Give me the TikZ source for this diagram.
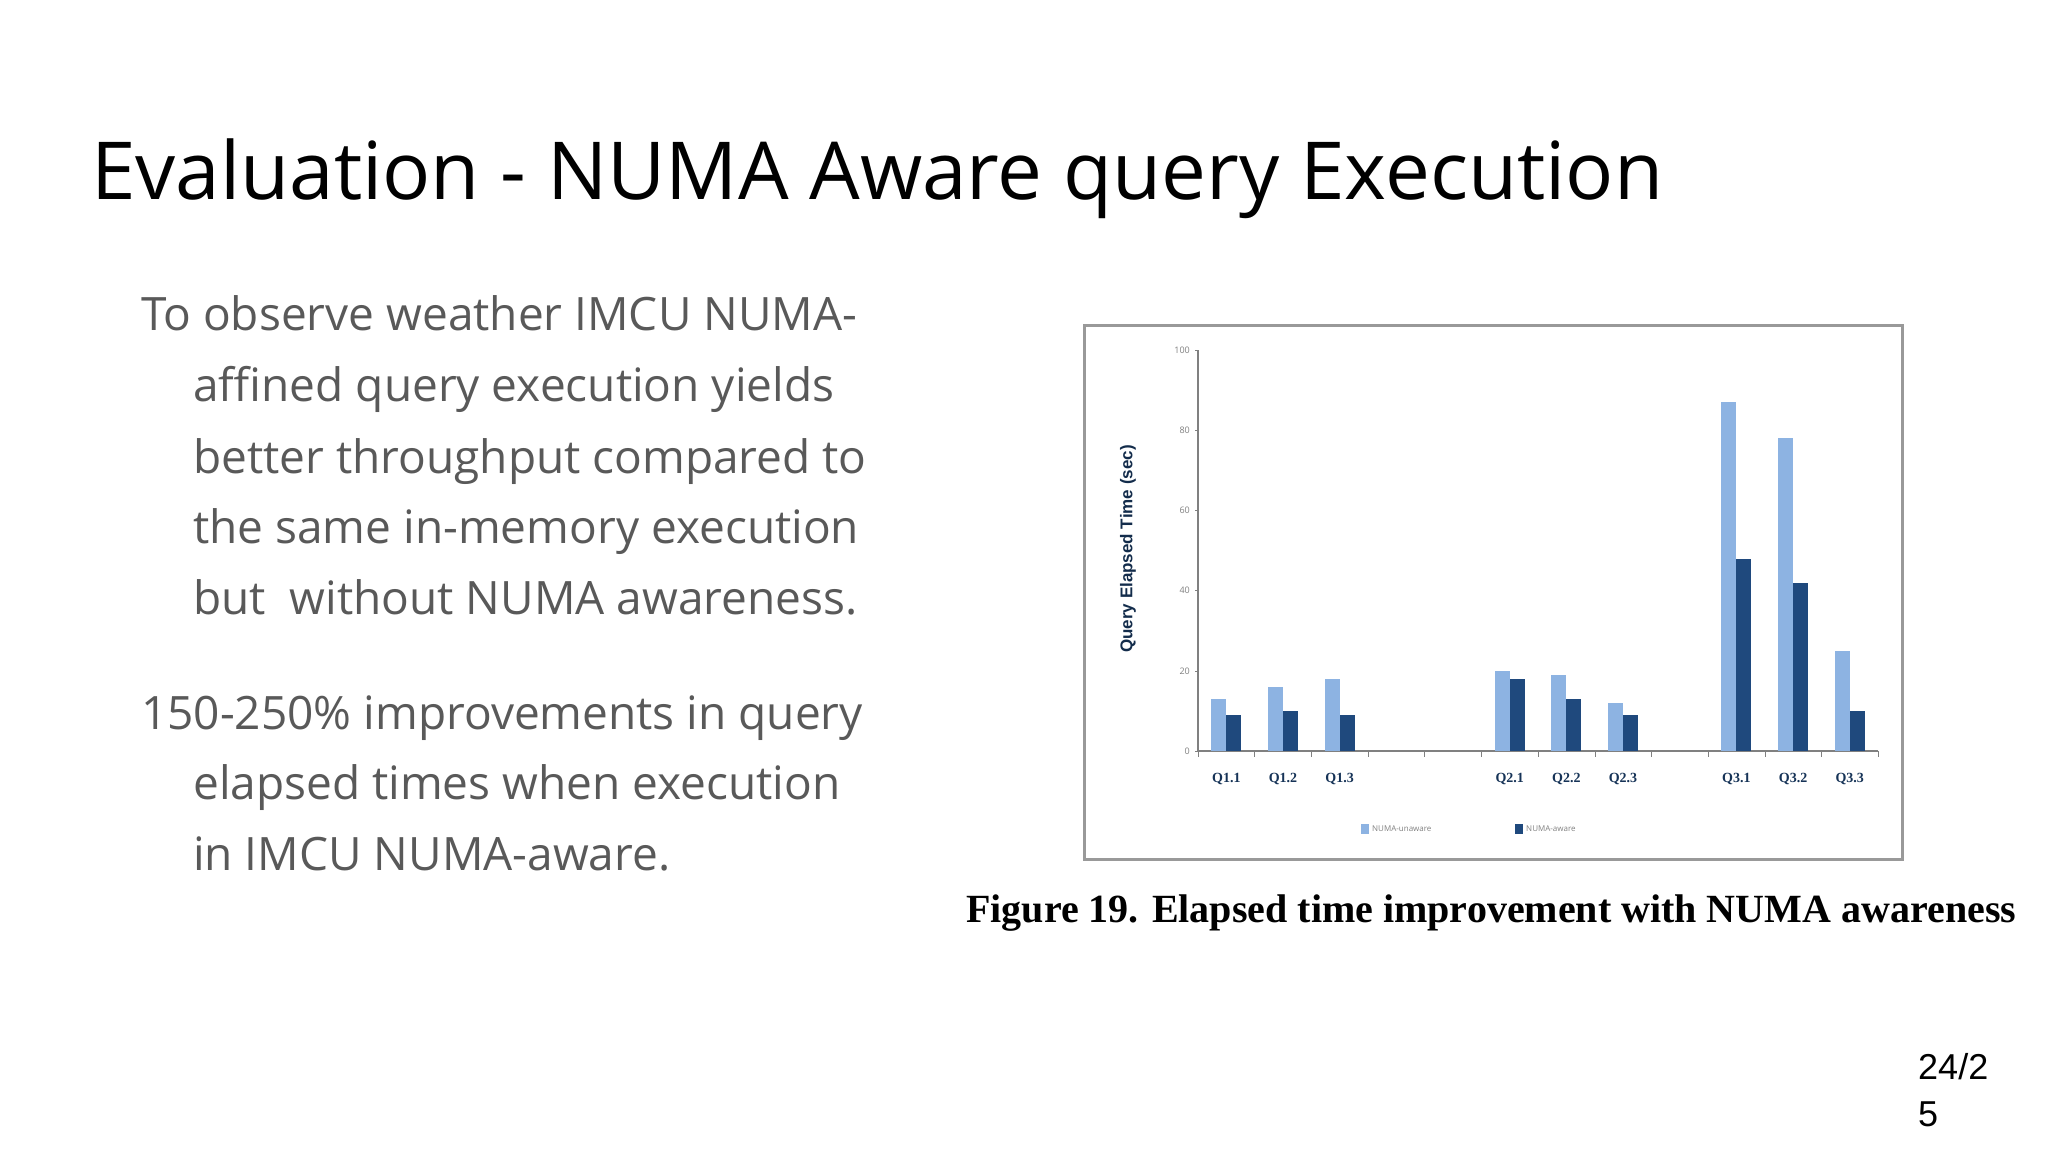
\documentclass[tikz,border=0pt]{standalone}
\usepackage{fontspec}
\setmainfont{Open Sans}
\newfontfamily\capfont{Liberation Serif}
\newfontfamily\arialfont{Liberation Sans}
\definecolor{lightbar}{HTML}{8DB3E2}
\definecolor{darkbar}{HTML}{1F497D}
\definecolor{bodygray}{HTML}{595959}
\begin{document}
\begin{tikzpicture}[x=1pt,y=-1pt,
  body/.style={anchor=base west,inner sep=0,text=bodygray,font=\fontsize{46}{46}\selectfont},
  tick/.style={anchor=east,inner sep=0,font=\fontsize{9}{9}\selectfont,text=gray},
  qlab/.style={anchor=north,inner sep=0,font=\capfont\bfseries\fontsize{14}{14}\selectfont,text=darkbar!70!black}]
\useasboundingbox (0,0) rectangle (2048,1152);
\fill[white] (0,0) rectangle (2048,1152);
\node[anchor=base west,inner sep=0,font=\fontsize{80}{80}\selectfont] (title) at (91,199) {Evaluation - NUMA Aware query Execution};
\node[body] (l1) at (141,330) {To observe weather IMCU NUMA-};
\node[body] (l2) at (193,401) {affined query execution yields};
\node[body] (l3) at (193,473) {better throughput compared to};
\node[body] (l4) at (193,543) {the same in-memory execution};
\node[body] (l5) at (193,614) {but\ \ without NUMA awareness.};
\node[body] (m1) at (141,729) {150-250\% improvements in query};
\node[body] (m2) at (193,799) {elapsed times when execution};
\node[body] (m3) at (193,870) {in IMCU NUMA-aware.};
% chart frame
\draw[line width=3pt,gray!80] (1084,325) rectangle (1902,859);
% axes
\draw[gray,line width=1.5pt] (1198,350) -- (1198,751) -- (1878,751);
\foreach \v in {0,20,...,100}{
  \node[tick] (t\v) at (1190,{751-4.01*\v}) {\v};
  \draw[gray] (1195,{751-4.01*\v}) -- (1198,{751-4.01*\v});
}
\foreach \i in {0,...,12}{\draw[gray] ({1198+56.67*\i},751) -- ({1198+56.67*\i},757);}
\node[rotate=90,inner sep=0,font=\arialfont\bfseries\fontsize{17}{17}\selectfont,text=darkbar!60!black] (ylab) at (1128,549) {Query Elapsed Time (sec)};
\foreach \s/\a/\b/\n in {0/13/9/Q1.1,1/16/10/Q1.2,2/18/9/Q1.3,5/20/18/Q2.1,6/19/13/Q2.2,7/12/9/Q2.3,9/87/48/Q3.1,10/78/42/Q3.2,11/25/10/Q3.3}{
  \pgfmathsetmacro\cx{1198+56.67*(\s+0.5)}
  \fill[lightbar] ({\cx-15},751) rectangle (\cx,{751-4.01*\a});
  \fill[darkbar] (\cx,751) rectangle ({\cx+15},{751-4.01*\b});
  \node[qlab] (q\s) at (\cx,773) {\n};
}
\fill[lightbar] (1361,824) rectangle (1369,834);
\node[anchor=west,inner sep=2pt,font=\fontsize{8}{8}\selectfont,text=gray] (lg1) at (1370,829) {NUMA-unaware};
\fill[darkbar] (1515,824) rectangle (1523,834);
\node[anchor=west,inner sep=2pt,font=\fontsize{8}{8}\selectfont,text=gray] (lg2) at (1524,829) {NUMA-aware};
\node[anchor=base west,inner sep=0,font=\capfont\bfseries\fontsize{40}{40}\selectfont] (cap) at (966,922) {Figure 19. Elapsed time improvement with NUMA awareness};
\node[anchor=base west,inner sep=0,font=\arialfont\fontsize{36}{36}\selectfont] (p1) at (1918,1079) {24/2};
\node[anchor=base west,inner sep=0,font=\arialfont\fontsize{36}{36}\selectfont] (p2) at (1918,1126) {5};
\end{tikzpicture}
\end{document}
